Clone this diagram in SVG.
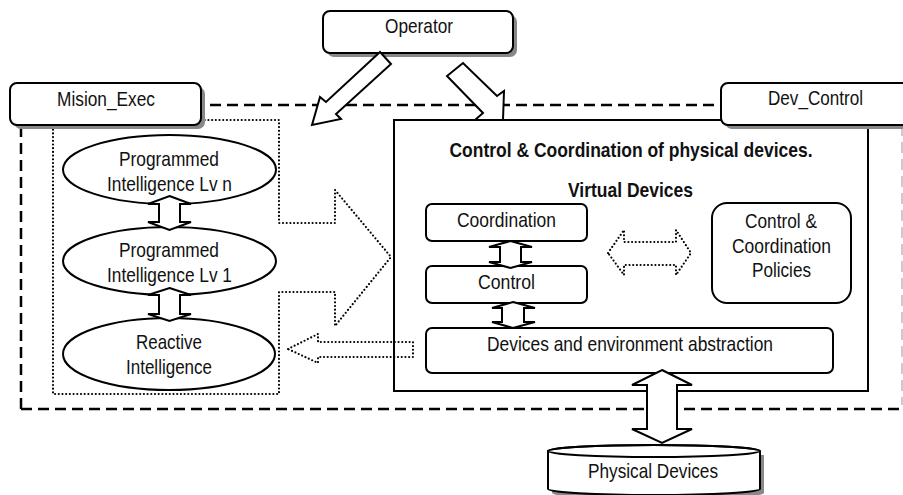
<svg xmlns="http://www.w3.org/2000/svg" width="903" height="495" viewBox="0 0 903 495">
<defs>
<style>
text{font-family:"Liberation Sans Narrow","Arial Narrow","Liberation Sans",Arial,sans-serif;font-size:21px;fill:#111;text-anchor:middle}
.b{font-weight:bold}
.box{fill:#fff;stroke:#000;stroke-width:2}
.sh{fill:#888;stroke:none}
.harrow{fill:#fff;stroke:#000;stroke-width:2;stroke-linejoin:miter}
.dot{fill:none;stroke:#000;stroke-width:2.2;stroke-dasharray:0 3.7;stroke-linecap:round}
.dash{fill:none;stroke:#000;stroke-width:2.5;stroke-dasharray:11 6}
</style>
</defs>
<rect width="903" height="495" fill="#fff"/>

<g id="boundary">
<path class="dash" d="M21,409 L21,105 L902,105"/>
<path class="dash" d="M21,409 L903,409"/>
<line x1="902" y1="125" x2="902" y2="405" stroke="#bbb" stroke-width="1.5" stroke-dasharray="11 6"/>
</g>

<g id="mision_exec_area">
<path class="dot" d="M53,120 L279,120 L279,223 L335,223 L335,190 L391,257 L335,326 L335,292 L279,292 L279,394 L53,394 Z"/>
</g>

<g id="dev_control_area">
<rect x="394" y="120" width="474" height="271" fill="none" stroke="#000" stroke-width="2"/>
</g>

<g id="operator">
<rect class="sh" x="327" y="15" width="190" height="42" rx="7"/>
<rect class="box" x="323" y="11" width="190" height="42" rx="7"/>
<text x="419" y="33" textLength="68" lengthAdjust="spacingAndGlyphs">Operator</text>
</g>

<g id="mision_exec">
<rect class="sh" x="14" y="87" width="191" height="42" rx="7"/>
<rect class="box" x="10" y="83" width="191" height="42" rx="7"/>
<text x="106" y="106" textLength="98" lengthAdjust="spacingAndGlyphs">Mision_Exec</text>
</g>

<g id="dev_control">
<rect class="sh" x="725" y="87" width="200" height="42" rx="7"/>
<rect class="box" x="721" y="83" width="200" height="42" rx="7"/>
<text x="815.5" y="105" textLength="95" lengthAdjust="spacingAndGlyphs">Dev_Control</text>
</g>

<g id="titles">
<text class="b" x="631" y="157" textLength="363" lengthAdjust="spacingAndGlyphs">Control &amp; Coordination of physical devices.</text>
<text class="b" x="630.5" y="197" textLength="125" lengthAdjust="spacingAndGlyphs">Virtual Devices</text>
</g>

<g id="pi_n">
<ellipse class="box" cx="169.5" cy="169.5" rx="106.5" ry="34.5"/>
<text x="169" y="166" textLength="100" lengthAdjust="spacingAndGlyphs">Programmed</text>
<text x="169.5" y="191" textLength="125" lengthAdjust="spacingAndGlyphs">Intelligence Lv n</text>
</g>

<g id="pi_1">
<ellipse class="box" cx="169.5" cy="261" rx="106.5" ry="34"/>
<text x="169" y="257" textLength="100" lengthAdjust="spacingAndGlyphs">Programmed</text>
<text x="169.5" y="282" textLength="125" lengthAdjust="spacingAndGlyphs">Intelligence Lv 1</text>
</g>

<g id="reactive">
<ellipse class="box" cx="169" cy="354" rx="106" ry="36"/>
<text x="169" y="349" textLength="66" lengthAdjust="spacingAndGlyphs">Reactive</text>
<text x="169" y="374" textLength="86" lengthAdjust="spacingAndGlyphs">Intelligence</text>
</g>

<g id="coordination">
<rect class="box" x="426" y="204" width="161" height="37" rx="6"/>
<text x="506.5" y="227" textLength="99" lengthAdjust="spacingAndGlyphs">Coordination</text>
</g>

<g id="control">
<rect class="box" x="426" y="266" width="161" height="37" rx="6"/>
<text x="506.5" y="289" textLength="57" lengthAdjust="spacingAndGlyphs">Control</text>
</g>

<g id="abstraction">
<rect class="box" x="426" y="328" width="407" height="45" rx="6"/>
<text x="630" y="351" textLength="286" lengthAdjust="spacingAndGlyphs">Devices and environment abstraction</text>
</g>

<g id="policies">
<rect class="box" x="712" y="203" width="139" height="100" rx="15"/>
<text x="781" y="228" textLength="72" lengthAdjust="spacingAndGlyphs">Control &amp;</text>
<text x="781.5" y="252.5" textLength="99" lengthAdjust="spacingAndGlyphs">Coordination</text>
<text x="781.5" y="277" textLength="59" lengthAdjust="spacingAndGlyphs">Policies</text>
</g>

<g id="physical_devices">
<path class="sh" d="M552,455 L552,493 A106,6 0 0 0 764,493 L764,455 Z"/>
<path class="box" d="M548,451 L548,489 A106,6 0 0 0 760,489 L760,451 A106,6 0 0 0 548,451 Z"/>
<ellipse cx="654" cy="451" rx="106" ry="6" fill="none" stroke="#000" stroke-width="2"/>
<text x="653" y="478" textLength="130" lengthAdjust="spacingAndGlyphs">Physical Devices</text>
</g>

<g id="connectors">
<polygon class="harrow" points="380,52 326,102 320,97 312,125 341,119 336,114 391,64"/>
<polygon class="harrow" points="447,76 483,113 475,120 503,120 504,91 497,96 463,63"/>
<polygon class="harrow" points="169.5,196 191,204 180,204 180,222 191,222 169.5,230 148,222 159,222 159,204 148,204"/>
<polygon class="harrow" points="169.5,288 191,295 180,295 180,314 191,314 169.5,321 148,314 159,314 159,295 148,295"/>
<polygon class="harrow" points="510.5,241 532,247 521,247 521,262 532,262 510.5,268 489,262 500,262 500,247 489,247"/>
<polygon class="harrow" points="513,302 535,308 524,308 524,322 535,322 513,328 492,322 502,322 502,308 492,308"/>
<polygon class="harrow" points="662,370 692,385 677,385 677,429 692,429 662,443 632,429 647,429 647,385 632,385"/>
<polygon class="dot" points="608,253 624,230 624,242 676,242 676,230 691,253 676,275 676,265 624,265 624,275"/>
<polygon class="dot" points="288,349 318,334 318,342 413,342 413,357 318,357 318,363"/>
</g>
</svg>
